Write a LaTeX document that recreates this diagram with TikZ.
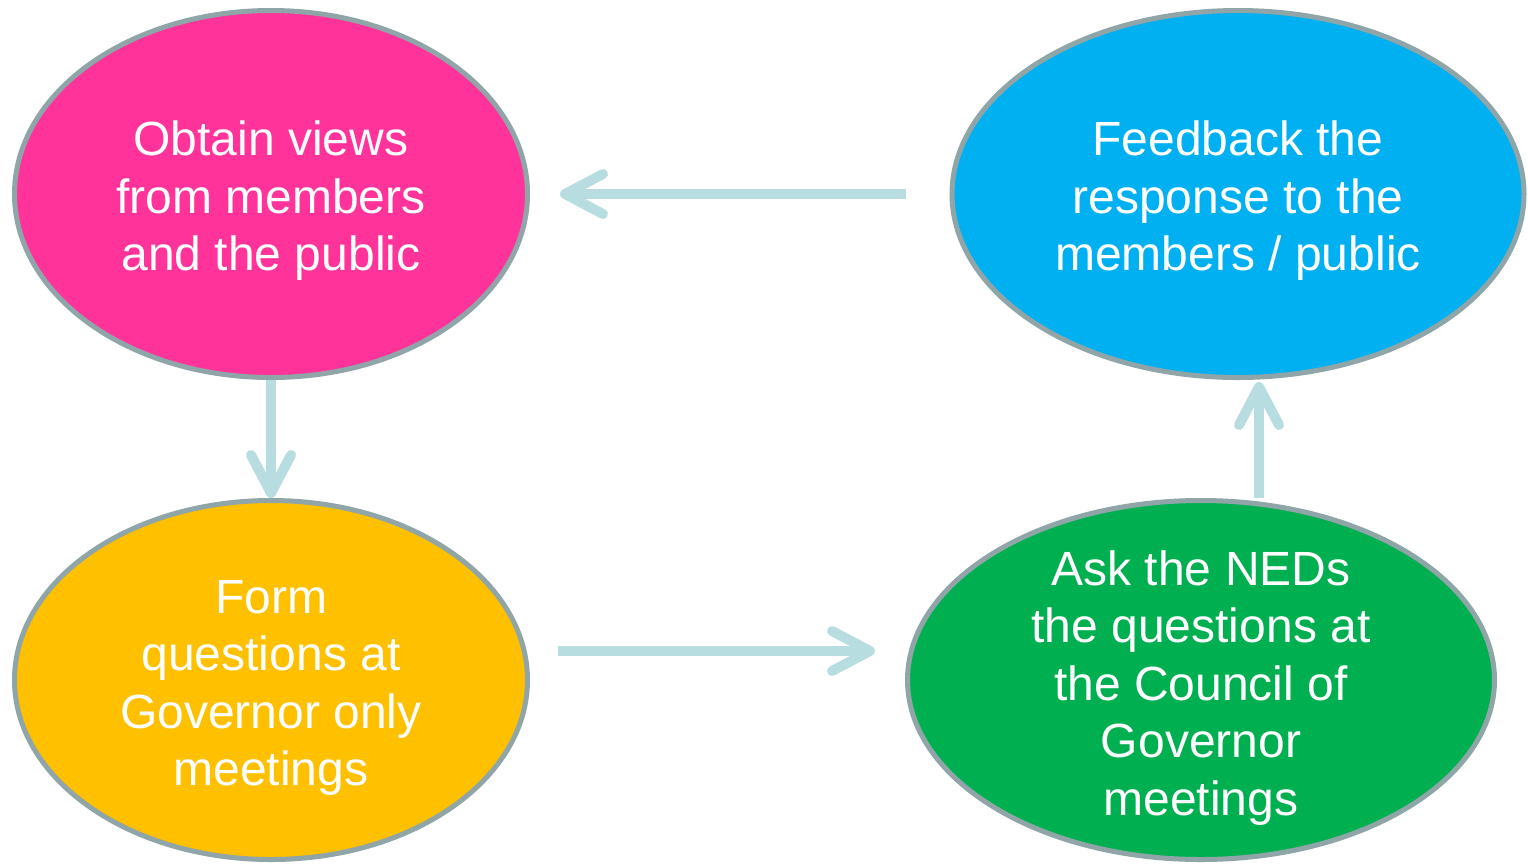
\documentclass[tikz,border=0pt]{standalone}
\usepackage{fontspec}
\setmainfont{Liberation Sans}
\usetikzlibrary{shapes.geometric,arrows.meta,calc}
\definecolor{cpink}{HTML}{FF3399}
\definecolor{cblue}{HTML}{00B0F0}
\definecolor{cyellow}{HTML}{FFC000}
\definecolor{cgreen}{HTML}{00B050}
\definecolor{cborder}{HTML}{8FA5A8}
\definecolor{carrow}{HTML}{B7DDE0}
\begin{document}
\begin{tikzpicture}[x=1pt,y=-1pt,
  blob/.style={ellipse,draw=cborder,line width=5pt,inner sep=0pt},
  lbl/.style={text=white,align=center,inner sep=0pt,
    font=\fontsize{48}{57.5}\selectfont},
  flow/.style={draw=carrow,line width=10pt,
    -{Straight Barb[length=38pt,width=40pt,round]}}]
\useasboundingbox (0,0) rectangle (1528,863);
\node[blob,fill=cpink,minimum width=513pt,minimum height=367pt] (a) at (271,194) {};
\node[blob,fill=cblue,minimum width=572pt,minimum height=367pt] (b) at (1238,194) {};
\node[blob,fill=cyellow,minimum width=513pt,minimum height=359pt] (c) at (271,680) {};
\node[blob,fill=cgreen,minimum width=587pt,minimum height=359pt] (d) at (1201,680) {};
\node[lbl] (ta) at ($(a.center)+(0,7)$) {Obtain views\\from members\\and the public};
\node[lbl] (tb) at ($(b.center)+(0,7)$) {Feedback the\\response to the\\members / public};
\node[lbl] (tc) at ($(c.center)+(0,8)$) {Form\\questions at\\Governor only\\meetings};
\node[lbl] (td) at ($(d.center)+(0,8)$) {Ask the NEDs\\the questions at\\the Council of\\Governor\\meetings};
\draw[flow] ($(b.west)+(-44,0)$) -- ($(a.east)+(30,0)$);
\draw[flow] (a.south) -- (c.north);
\draw[flow] ($(c.east)+(28,-29)$) -- ($(d.west)+(-30,-29)$);
\draw[flow] ($(d.north)+(58,0)$) -- ($(b.south)+(21,2)$);
\end{tikzpicture}
\end{document}
